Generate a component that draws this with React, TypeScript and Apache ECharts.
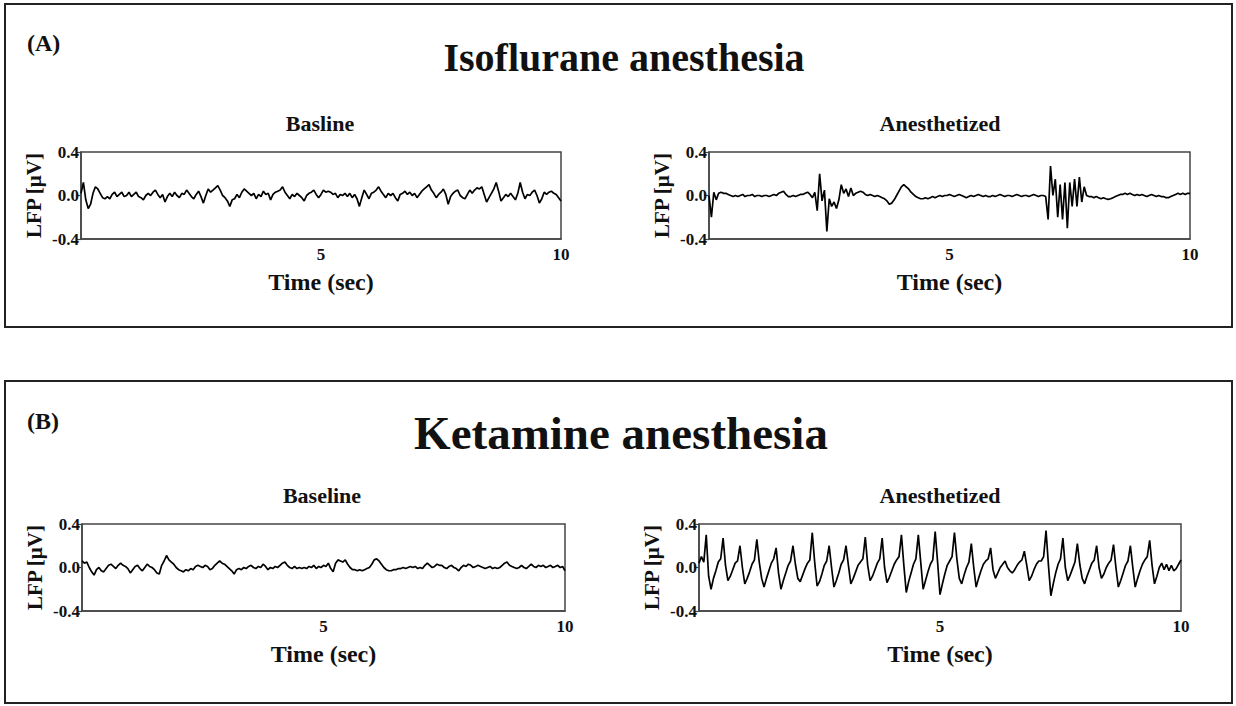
import React, { useEffect, useRef } from "react";
import * as echarts from "echarts";

// Sampling step of every trace (seconds)
const STEP = 0.05;

const yTicks = [-0.4, 0.0, 0.4];
const xTicks = [5, 10];

// (A) Isoflurane — Basline
const isoBaseline = [
  0.02, 0.12, -0.04, -0.12, -0.08, 0.02, 0.08, 0.06, 0.02, -0.02,
  -0.03, -0.01, -0.03, 0.01, 0.03, -0.01, 0.01, 0.03, -0.01, 0.0,
  0.03, -0.01, 0.01, 0.03, -0.01, -0.02, -0.04, 0.0, 0.02, 0.0,
  0.03, 0.05, 0.01, -0.02, 0.01, -0.06, -0.01, 0.02, -0.01, 0.03,
  0.0, -0.02, 0.02, 0.01, 0.05, 0.02, -0.01, -0.03, 0.01, 0.04,
  -0.01, -0.07, 0.0, 0.06, 0.03, 0.05, 0.07, 0.09, 0.05, 0.0,
  -0.02, -0.05, -0.1, -0.04, -0.03, 0.01, -0.02, 0.03, 0.06, 0.04,
  0.02, 0.0, 0.02, -0.03, 0.01, -0.01, 0.04, 0.01, 0.02, -0.04,
  0.01, 0.03, 0.04, 0.05, 0.08, 0.03, 0.0, -0.03, 0.01, -0.01,
  0.02, 0.0, -0.02, -0.05, 0.0, 0.02, 0.03, 0.05, 0.01, -0.02,
  0.01, 0.05, 0.03, 0.04, 0.03, 0.01, 0.02, -0.02, 0.01, 0.0,
  0.02, -0.01, 0.02, -0.02, 0.01, -0.03, -0.1, -0.02, 0.05, 0.01,
  -0.03, 0.02, 0.03, 0.05, 0.08, 0.04, 0.01, -0.02, 0.02, 0.0,
  0.02, -0.02, -0.05, 0.01, 0.02, 0.04, 0.01, 0.03, 0.0, 0.02,
  -0.02, 0.01, 0.04, 0.06, 0.08, 0.1, 0.05, 0.02, -0.02, 0.01,
  0.03, 0.06, 0.01, -0.08, -0.01, 0.02, 0.04, 0.05, 0.0, -0.02,
  -0.03, 0.01, 0.05, 0.02, 0.05, 0.07, 0.06, 0.08, 0.01, -0.06,
  -0.02, 0.02, 0.06, 0.12, 0.04, -0.05, -0.02, 0.01, -0.01, 0.02,
  -0.01, -0.04, 0.02, 0.12, 0.03, -0.03, 0.01, 0.0, 0.03, 0.05,
  0.0, -0.07, -0.03, 0.03, 0.01, 0.03, 0.04, 0.02, 0.01, -0.02,
  -0.05,
];

// (A) Isoflurane — Anesthetized
const isoAnesthetized = [
  0.0, -0.2, 0.03, -0.04, 0.02, 0.03, 0.02, 0.02, 0.01, 0.0,
  -0.01, 0.0, -0.01, 0.0, 0.01, -0.01, 0.0, 0.0, 0.01, -0.01,
  0.0, 0.0, -0.01, 0.0, 0.0, -0.01, 0.0, 0.01, 0.0, 0.02,
  0.03, 0.04, 0.01, -0.01, -0.01, 0.0, -0.01, 0.0, 0.01, 0.01,
  0.02, 0.03, 0.01, -0.02, 0.03, -0.14, 0.2, -0.05, 0.05, -0.33,
  -0.03, -0.1, -0.06, -0.12, -0.04, 0.1, 0.02, 0.06, -0.01, 0.07,
  0.0, 0.02, 0.03, 0.04, 0.03, 0.01, 0.0, 0.01, 0.0, -0.01,
  0.0, -0.01, -0.02, -0.03, -0.05, -0.08, -0.07, -0.04, 0.0, 0.04,
  0.08, 0.1, 0.08, 0.06, 0.03, 0.01, -0.01, -0.02, -0.03, -0.03,
  -0.02, -0.03, -0.02, -0.01, -0.02, -0.01, 0.0, -0.01, 0.0, 0.0,
  0.01, 0.0, -0.01, 0.0, 0.01, 0.0, -0.01, -0.02, -0.01, 0.0,
  -0.01, 0.0, 0.01, 0.0, -0.01, 0.0, -0.01, -0.01, 0.0, -0.01,
  0.0, 0.01, 0.0, -0.01, 0.0, 0.0, -0.01, 0.0, 0.01, 0.0,
  -0.01, 0.0, 0.0, -0.01, 0.0, 0.01, 0.0, -0.01, 0.0, 0.0,
  -0.01, -0.22, 0.27, 0.0, 0.15, -0.2, 0.1, -0.22, 0.12, -0.3,
  0.12, -0.1, 0.15, -0.1, 0.17, -0.06, 0.08, 0.0, -0.01, -0.01,
  -0.02, -0.01, -0.02, -0.03, -0.02, -0.03, -0.035, -0.03, -0.02, -0.01,
  0.0, 0.01, 0.01, 0.02, 0.01, 0.02, 0.01, 0.0, 0.01, 0.0,
  0.01, 0.0, -0.01, 0.0, 0.01, 0.0, -0.01, 0.0, -0.01, -0.01,
  -0.02, -0.02, -0.01, 0.0, 0.01, 0.02, 0.01, 0.02, 0.01, 0.02,
  0.02,
];

// (B) Ketamine — Baseline
const ketBaseline = [
  0.06, 0.04, 0.05, 0.0, -0.04, -0.07, -0.02, 0.0, -0.03, -0.04,
  -0.01, 0.02, 0.03, 0.01, -0.01, 0.02, 0.04, 0.02, 0.01, -0.01,
  -0.05, -0.02, 0.01, 0.02, -0.01, -0.03, 0.0, 0.03, 0.01, 0.0,
  -0.02, -0.05, -0.06, 0.02, 0.06, 0.11, 0.07, 0.05, 0.03, 0.0,
  -0.02, -0.03, -0.04, -0.02, -0.03, -0.01, -0.02, 0.01, 0.02, 0.01,
  0.0, 0.02, 0.01, -0.02, -0.01, 0.02, 0.04, 0.06, 0.04, 0.03,
  0.01, -0.01, -0.03, -0.06, -0.02, -0.01, -0.02, 0.0, -0.01, 0.01,
  0.02, 0.0, -0.01, 0.01, 0.0, 0.03, 0.01, -0.02, 0.0, -0.01,
  0.01, 0.0, 0.02, 0.04, 0.05, 0.02, 0.0, -0.01, 0.01, -0.01,
  0.0, -0.01, 0.0, -0.01, 0.01, 0.0, 0.02, -0.01, 0.01, 0.0,
  0.02, 0.01, 0.04, -0.01, -0.04, 0.04, 0.07, 0.06, 0.05, 0.07,
  0.03, 0.0, -0.02, -0.02, -0.03, -0.02, -0.03, -0.02, -0.01, 0.0,
  0.03, 0.07, 0.08, 0.06, 0.03, 0.0, -0.02, -0.03, -0.03, -0.02,
  -0.02, -0.01, -0.01, 0.0, -0.01, 0.0, 0.01, 0.0, 0.01, -0.01,
  0.0, -0.01, 0.02, 0.04, 0.02, 0.0, 0.01, 0.03, 0.02, 0.02,
  0.0, -0.01, 0.01, 0.02, 0.0, -0.01, -0.03, 0.0, 0.02, 0.01,
  0.03, 0.02, 0.0, 0.01, 0.02, 0.01, 0.0, -0.01, 0.0, 0.01,
  -0.01, 0.0, -0.01, 0.0, 0.02, 0.04, 0.05, 0.02, 0.01, 0.0,
  -0.01, 0.0, 0.02, 0.0, -0.01, 0.01, 0.03, 0.01, 0.0, 0.02,
  0.01, 0.02, 0.0, 0.01, 0.02, 0.0, 0.01, 0.02, 0.0, 0.01,
  -0.03,
];

// (B) Ketamine — Anesthetized
const ketAnesthetized = [
  0.04, 0.1, 0.05, 0.3, -0.08, -0.2, -0.1, -0.03, 0.05, 0.08,
  0.27, 0.02, -0.12, -0.08, -0.02, 0.04, 0.06, 0.2, 0.0, -0.15,
  -0.1, -0.04, 0.03, 0.07, 0.26, 0.05, -0.1, -0.18, -0.1, -0.03,
  0.04, 0.08, 0.18, -0.05, -0.2, -0.12, -0.05, 0.02, 0.06, 0.2,
  0.03, -0.1, -0.13, -0.07, -0.01, 0.04, 0.07, 0.32, 0.05, -0.17,
  -0.13, -0.06, 0.02, 0.06, 0.2, 0.0, -0.18, -0.12, -0.05, 0.03,
  0.07, 0.2, 0.02, -0.15, -0.1, -0.04, 0.02, 0.05, 0.08, 0.28,
  0.02, -0.12, -0.08, -0.02, 0.04, 0.08, 0.27, 0.0, -0.14, -0.09,
  -0.03, 0.03, 0.07, 0.1, 0.3, 0.02, -0.23, -0.13, -0.05, 0.03,
  0.08, 0.3, 0.05, -0.2, -0.12, -0.04, 0.03, 0.07, 0.33, 0.05,
  -0.25, -0.15, -0.06, 0.02, 0.06, 0.1, 0.32, 0.08, -0.1, -0.15,
  -0.07, 0.0, 0.05, 0.22, 0.0, -0.18, -0.1, -0.03, 0.03, 0.06,
  0.08, 0.18, -0.02, -0.1, -0.05, 0.0, 0.03, 0.06, 0.0, -0.03,
  -0.05, -0.02, 0.02, 0.05, 0.07, 0.15, 0.02, -0.12, -0.08, -0.02,
  0.03, 0.06, 0.06, 0.1, 0.34, 0.02, -0.26, -0.15, -0.05, 0.03,
  0.08, 0.27, 0.0, -0.12, -0.07, -0.01, 0.05, 0.22, 0.03, -0.1,
  -0.15, -0.08, -0.02, 0.04, 0.07, 0.2, 0.0, -0.1, -0.06, 0.0,
  0.04, 0.07, 0.21, 0.0, -0.18, -0.12, -0.05, 0.02, 0.06, 0.2,
  0.0, -0.18, -0.1, -0.03, 0.03, 0.07, 0.1, 0.25, 0.02, -0.15,
  -0.08, 0.0, 0.04, -0.02, 0.03, -0.03, 0.02, -0.03, -0.01, 0.03,
  0.07,
];

const SERIF = '"Liberation Serif", "Times New Roman", serif';

function toPairs(vals: number[]) {
  return vals.map((v, i) => [+(i * STEP).toFixed(2), v]);
}

const grids = [
  { left: 81, top: 152, width: 480, height: 87 },
  { left: 709, top: 152, width: 481, height: 87 },
  { left: 82, top: 524, width: 483, height: 87 },
  { left: 699, top: 524, width: 482, height: 87 },
];

const traces = [isoBaseline, isoAnesthetized, ketBaseline, ketAnesthetized];

export default function App() {
  const ref = useRef<HTMLDivElement>(null);

  useEffect(() => {
    if (!ref.current) return;
    const chart = echarts.init(ref.current, null, { renderer: "svg" });

    const xAxes = grids.map((_, i) => ({
      type: "value",
      gridIndex: i,
      min: 0,
      max: 10,
      interval: 5,
      name: "Time (sec)",
      nameLocation: "middle",
      nameGap: 31,
      nameTextStyle: { fontFamily: SERIF, fontWeight: "bold", fontSize: 24, color: "#111" },
      axisLine: { show: true, onZero: false, lineStyle: { color: "#444", width: 1.5 } },
      axisTick: { show: false },
      splitLine: { show: false },
      axisLabel: {
        showMinLabel: false,
        margin: 7,
        fontFamily: SERIF,
        fontWeight: "bold",
        fontSize: 17,
        color: "#111",
        formatter: (v: number) => (xTicks.includes(v) ? String(v) : ""),
      },
    }));

    const yAxes = grids.map((_, i) => ({
      type: "value",
      gridIndex: i,
      min: yTicks[0],
      max: yTicks[yTicks.length - 1],
      interval: 0.4,
      name: "LFP [μV]",
      nameLocation: "middle",
      nameRotate: 90,
      nameGap: 37,
      nameTextStyle: { fontFamily: SERIF, fontWeight: "bold", fontSize: 21, color: "#111" },
      axisLine: { show: true, lineStyle: { color: "#444", width: 1.5 } },
      axisTick: { show: true, length: 5, lineStyle: { color: "#444", width: 1.2 } },
      splitLine: { show: false },
      axisLabel: {
        margin: 2,
        fontFamily: SERIF,
        fontWeight: "bold",
        fontSize: 17,
        color: "#111",
        formatter: (v: number) => v.toFixed(1),
      },
    }));

    const series = traces.map((vals, i) => ({
      type: "line",
      xAxisIndex: i,
      yAxisIndex: i,
      data: toPairs(vals),
      showSymbol: false,
      symbol: "none",
      lineStyle: { color: "#000", width: 1.7 },
      silent: true,
    }));

    const txt = (
      text: string,
      x: number,
      y: number,
      size: number,
      align: string = "center"
    ) => ({
      type: "text",
      x,
      y,
      silent: true,
      style: {
        text,
        x: 0,
        y: 0,
        align,
        verticalAlign: "middle",
        textAlign: align,
        textVerticalAlign: "middle",
        font: `bold ${size}px ${SERIF}`,
        fill: "#111",
      },
    });

    chart.setOption({
      animation: false,
      backgroundColor: "#fff",
      grid: grids.map((g) => ({
        ...g,
        show: true,
        borderColor: "#444",
        borderWidth: 1.5,
        backgroundColor: "transparent",
        containLabel: false,
      })),
      xAxis: xAxes,
      yAxis: yAxes,
      series,
      graphic: [
        {
          type: "rect",
          shape: { x: 5, y: 4, width: 1227, height: 323 },
          style: { fill: "none", stroke: "#222", lineWidth: 2 },
          silent: true,
        },
        {
          type: "rect",
          shape: { x: 5, y: 381, width: 1227, height: 322 },
          style: { fill: "none", stroke: "#222", lineWidth: 2 },
          silent: true,
        },
        txt("(A)", 27, 43, 24, "left"),
        txt("Isoflurane anesthesia", 624, 57, 40),
        txt("Basline", 320, 123, 22),
        txt("Anesthetized", 940, 123, 22),
        txt("(B)", 27, 421, 24, "left"),
        txt("Ketamine anesthesia", 621, 433, 47),
        txt("Baseline", 322, 495, 22),
        txt("Anesthetized", 940, 495, 22),
      ],
    });

    return () => chart.dispose();
  }, []);

  return (
    <div
      ref={ref}
      style={{ position: "fixed", left: 0, top: 0, width: 1236, height: 706 }}
    />
  );
}
